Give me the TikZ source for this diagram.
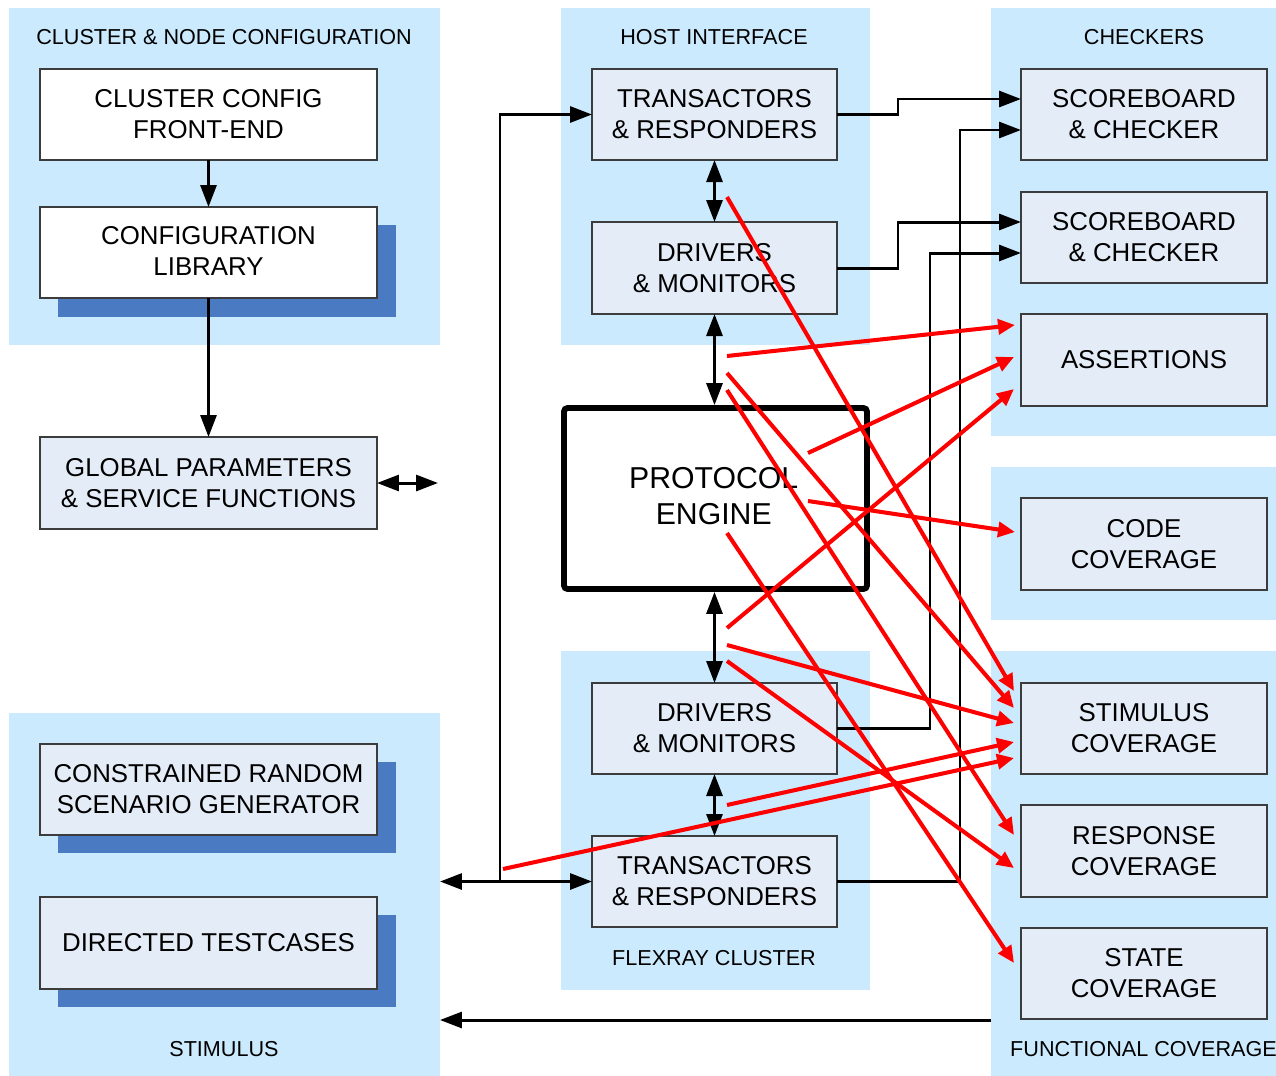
\documentclass[tikz,border=0pt]{standalone}
\usepackage{fontspec}
\setmainfont{Liberation Sans}
\usetikzlibrary{arrows.meta,fit,calc}
\definecolor{panelblue}{RGB}{204,234,253}
\definecolor{boxfill}{RGB}{228,236,247}
\definecolor{shadowblue}{RGB}{74,122,193}
\definecolor{boxline}{RGB}{60,60,60}
\begin{document}
\begin{tikzpicture}[x=0.02cm,y=-0.02cm,
  panel/.style={fill=panelblue, draw=none, inner sep=0pt, outer sep=0pt},
  blockbox/.style={fill=boxfill, draw=boxline, line width=0.8pt, inner sep=0pt, outer sep=0pt,
    align=center, font=\fontsize{14.7}{17.6}\selectfont},
  whitebox/.style={blockbox, fill=white},
  engine/.style={fill=white, draw=black, line width=3.3pt, rounded corners=2pt, inner sep=0pt,
    align=center, font=\fontsize{17.2}{20.4}\selectfont},
  dropshade/.style={fill=shadowblue, draw=none, inner sep=0pt},
  paneltitle/.style={font=\fontsize{12.3}{14}\selectfont, inner sep=0pt},
  blk/.style={line width=1.7pt, -{Triangle[length=0.44cm,width=0.32cm]}},
  blkline/.style={line width=1.7pt},
  blkboth/.style={line width=1.7pt, {Triangle[length=0.44cm,width=0.32cm]}-{Triangle[length=0.44cm,width=0.32cm]}},
  redarrow/.style={line width=2.3pt, red, -{Triangle[length=0.34cm,width=0.3cm]}},
]
\useasboundingbox (0,0) rectangle (1276,1076);

% background panels
\node[panel, fit={(9,8) (440,345)}] (cnp) {};
\node[panel, fit={(561,8) (870,345)}] (hip) {};
\node[panel, fit={(991,8) (1276,436)}] (chp) {};
\node[panel, fit={(991,467) (1276,620)}] (ccp) {};
\node[panel, fit={(991,651) (1276,1076)}] (fcp) {};
\node[panel, fit={(9,713) (440,1076)}] (stp) {};
\node[panel, fit={(561,651) (870,990)}] (frp) {};

% panel titles
\node[paneltitle] (tcn) at (224,37) {CLUSTER \& NODE CONFIGURATION};
\node[paneltitle] (thi) at (714,37) {HOST INTERFACE};
\node[paneltitle] (tch) at (1144,37) {CHECKERS};
\node[paneltitle] (tst) at (224,1049) {STIMULUS};
\node[paneltitle] (tfr) at (714,958) {FLEXRAY CLUSTER};
\node[paneltitle] (tfc) at (1143.5,1049) {FUNCTIONAL COVERAGE};

% drop shadows
\node[dropshade, fit={(58,225) (396,317)}] (shlib) {};
\node[dropshade, fit={(58,762) (396,853)}] (shcrs) {};
\node[dropshade, fit={(58,915) (396,1007)}] (shdt) {};

% configuration and stimulus blocks
\node[whitebox, fit={(40,69) (377,160)}] (cfe) {};
\node[align=center, font=\fontsize{14.7}{17.6}\selectfont] at (cfe.center) {CLUSTER CONFIG\\FRONT-END};
\node[whitebox, fit={(40,207) (377,298)}] (clib) {};
\node[align=center, font=\fontsize{14.7}{17.6}\selectfont] at ([yshift=1pt] clib.center) {CONFIGURATION\\LIBRARY};
\node[blockbox, fit={(40,437) (377,529)}] (gp) {};
\node[align=center, font=\fontsize{14.7}{17.6}\selectfont] at (gp.center) {GLOBAL PARAMETERS\\\& SERVICE FUNCTIONS};
\node[blockbox, fit={(40,744) (377,835)}] (crs) {};
\node[align=center, font=\fontsize{14.7}{17.6}\selectfont] at (crs.center) {CONSTRAINED RANDOM\\SCENARIO GENERATOR};
\node[blockbox, fit={(40,897) (377,989)}] (dt) {};
\node[align=center, font=\fontsize{14.7}{17.6}\selectfont] at (dt.center) {DIRECTED TESTCASES};

% host interface and cluster blocks
\node[blockbox, fit={(592,69) (837,160)}] (ttop) {};
\node[align=center, font=\fontsize{14.7}{17.6}\selectfont] at (ttop.center) {TRANSACTORS\\\& RESPONDERS};
\node[blockbox, fit={(592,222) (837,314)}] (dtop) {};
\node[align=center, font=\fontsize{14.7}{17.6}\selectfont] at (dtop.center) {DRIVERS\\\& MONITORS};
\node[engine, fit={(564,408) (867,589)}] (pe) {};
\node[align=center, font=\fontsize{17.2}{20.4}\selectfont] at ([xshift=-1pt,yshift=1.5pt] pe.center) {PROTOCOL\\ENGINE};
\node[blockbox, fit={(592,683) (837,774)}] (dbot) {};
\node[align=center, font=\fontsize{14.7}{17.6}\selectfont] at (dbot.center) {DRIVERS\\\& MONITORS};
\node[blockbox, fit={(592,836) (837,927)}] (tbot) {};
\node[align=center, font=\fontsize{14.7}{17.6}\selectfont] at (tbot.center) {TRANSACTORS\\\& RESPONDERS};

% checker and coverage blocks
\node[blockbox, fit={(1021,69) (1267,160)}] (sb1) {};
\node[align=center, font=\fontsize{14.7}{17.6}\selectfont] at (sb1.center) {SCOREBOARD\\\& CHECKER};
\node[blockbox, fit={(1021,192) (1267,283)}] (sb2) {};
\node[align=center, font=\fontsize{14.7}{17.6}\selectfont] at (sb2.center) {SCOREBOARD\\\& CHECKER};
\node[blockbox, fit={(1021,314) (1267,406)}] (as) {};
\node[align=center, font=\fontsize{14.7}{17.6}\selectfont] at (as.center) {ASSERTIONS};
\node[blockbox, fit={(1021,498) (1267,590)}] (cc) {};
\node[align=center, font=\fontsize{14.7}{17.6}\selectfont] at (cc.center) {CODE\\COVERAGE};
\node[blockbox, fit={(1021,683) (1267,774)}] (sc) {};
\node[align=center, font=\fontsize{14.7}{17.6}\selectfont] at (sc.center) {STIMULUS\\COVERAGE};
\node[blockbox, fit={(1021,805) (1267,897)}] (rc) {};
\node[align=center, font=\fontsize{14.7}{17.6}\selectfont] at (rc.center) {RESPONSE\\COVERAGE};
\node[blockbox, fit={(1021,928) (1267,1019)}] (stc) {};
\node[align=center, font=\fontsize{14.7}{17.6}\selectfont] at (stc.center) {STATE\\COVERAGE};

% free ends of connectors
\coordinate (gpend) at (438,483);
\coordinate (junc) at (500,881);

% black connectors
\draw[blk] (cfe.south) -- (clib.north);
\draw[blk] (clib.south) -- (gp.north);
\draw[blkboth] (gp.east) -- (gpend);
\draw[blkboth] (stp.east |- tbot.west) -- (tbot.west);
\draw[blk] (junc) |- (ttop.west);
\draw[blkboth] (ttop.south) -- (dtop.north);
\draw[blkboth] (dtop.south) -- (dtop.south |- pe.north);
\draw[blkboth] (dbot.north |- pe.south) -- (dbot.north);
\draw[blkboth] (dbot.south) -- (tbot.north);
\draw[blk] (ttop.east) -- ++(61,0) |- ($(sb1.north west)+(0,30)$);
\draw[blk] (dtop.east) -- ++(61,0) |- ($(sb2.north west)+(0,30)$);
\draw[blk] (dbot.east) -- ++(93,0) |- ($(sb2.north west)+(0,61)$);
\draw[blk] (tbot.east) -- ++(123,0) |- ($(sb1.north west)+(0,61)$);
\draw[blk] (fcp.west |- 0,1020) -- (stp.east |- 0,1020);

% start points of the coverage links
\coordinate (r1) at (727,197);
\coordinate (r2) at (727,356);
\coordinate (r3) at (727,373);
\coordinate (r4) at (727,390);
\coordinate (r5) at (808,453);
\coordinate (r6) at (808,501);
\coordinate (r7) at (727,533);
\coordinate (r8) at (727,628);
\coordinate (r9) at (727,645);
\coordinate (r10) at (727,661);
\coordinate (r11) at (727,805);
\coordinate (r12) at (503,869);

% coverage and checking links
\draw[redarrow] (r1) -- ($(sc.north west)+(-7,8)$);
\draw[redarrow] (r2) -- ($(as.north west)+(-6,11)$);
\draw[redarrow] (r3) -- ($(sc.north west)+(-7,25)$);
\draw[redarrow] (r4) -- ($(rc.north west)+(-7,30)$);
\draw[redarrow] (r5) -- ($(as.north west)+(-7,43)$);
\draw[redarrow] (r6) -- ($(cc.north west)+(-6,34)$);
\draw[redarrow] (r7) -- ($(stc.north west)+(-7,35)$);
\draw[redarrow] (r8) -- ($(as.north west)+(-7,75)$);
\draw[redarrow] (r9) -- ($(sc.north west)+(-7,40)$);
\draw[redarrow] (r10) -- ($(rc.north west)+(-7,63)$);
\draw[redarrow] (r11) -- ($(sc.north west)+(-7,59)$);
\draw[redarrow] (r12) -- ($(sc.north west)+(-7,75)$);
\end{tikzpicture}
\end{document}
